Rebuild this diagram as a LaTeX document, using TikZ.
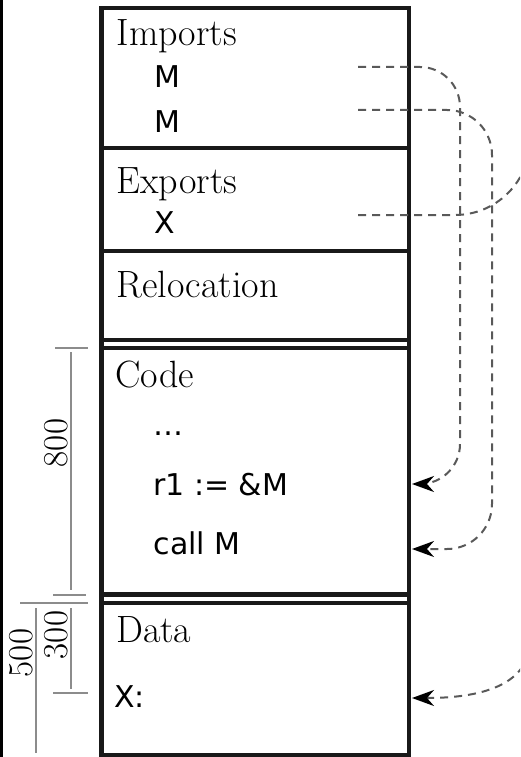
\documentclass[tikz,border=0pt]{standalone}
\usepackage{fontspec}
\newfontfamily\sansf{DejaVu Sans}
\usetikzlibrary{arrows.meta}
\begin{document}
\begin{tikzpicture}[x=1pt,y=-1pt,
  serif/.style={anchor=base west, inner sep=0pt, font=\fontsize{38}{44}\selectfont},
  sans/.style={anchor=base west, inner sep=0pt, font=\sansf\fontsize{30}{36}\selectfont},
  boxline/.style={line width=4.5pt, black!90},
  dim/.style={line width=1.2pt, black!45},
  dimlabel/.style={rotate=90, anchor=base, inner sep=0pt, font=\fontsize{35}{40}\selectfont},
  conn/.style={line width=2pt, black!65, dash pattern=on 8pt off 6pt,
    -{Stealth[length=22pt,width=16pt,inset=7pt,black]}}]
\useasboundingbox (0,0) rectangle (520,757);
\clip (0,0) rectangle (520,757);
\fill[black] (0,0) rectangle (3,757);

% segment box
\draw[boxline] (101.5,8) rectangle (409,755);
\draw[boxline] (101.5,148) -- (409,148);
\draw[boxline] (101.5,251) -- (409,251);
\draw[boxline] (101.5,340) -- (409,340);
\draw[boxline] (101.5,348) -- (409,348);
\draw[boxline] (101.5,594.5) -- (409,594.5);
\draw[boxline] (101.5,603) -- (409,603);

% texts
\node[serif] (imp) at (116.5,46) {Imports};
\node[sans] (m1) at (154,88) {M};
\node[sans] (m2) at (154,132) {M};
\node[serif] (exp) at (116.5,193) {Exports};
\node[sans] (x1) at (154,233) {X};
\node[serif] (rel) at (116.5,297) {Relocation};
\node[serif] (code) at (115,387) {Code};
\node[sans] (dots) at (153,435) {…};
\node[sans] (r1) at (153,495) {r1 := \&M};
\node[sans] (call) at (153.5,554) {call M};
\node[serif] (data) at (116,642) {Data};
\node[sans] (xc) at (114,707) {X:};

% dimension lines
\draw[dim] (55,348) -- (88,348);
\draw[dim] (71,352) -- (71,590);
\draw[dim] (53,595) -- (86,595);
\draw[dim] (20,603) -- (88,603);
\draw[dim] (71,608) -- (71,689);
\draw[dim] (53,693) -- (88,693);
\draw[dim] (36,608) -- (36,753);
\node[dimlabel] (d800) at (67,443) {800};
\node[dimlabel] (d300) at (67,635) {300};
\node[dimlabel] (d500) at (32,653) {500};

% connectors
\coordinate (s1) at (358,67);
\coordinate (s2) at (358,110);
\coordinate (s3) at (358,215);
\coordinate (t1) at (412,484);
\coordinate (t2) at (412,549);
\coordinate (t3) at (412,698);
\draw[conn, rounded corners=40pt] (s1) -| ([xshift=48pt]t1) -- (t1);
\draw[conn, rounded corners=45pt] (s2) -| ([xshift=80pt]t2) -- (t2);
\draw[conn] (s3) -- (455,215) arc[start angle=90, end angle=0, radius=75] -- (530,640)
  .. controls (530,690) and (470,698) .. (t3);
\end{tikzpicture}
\end{document}
